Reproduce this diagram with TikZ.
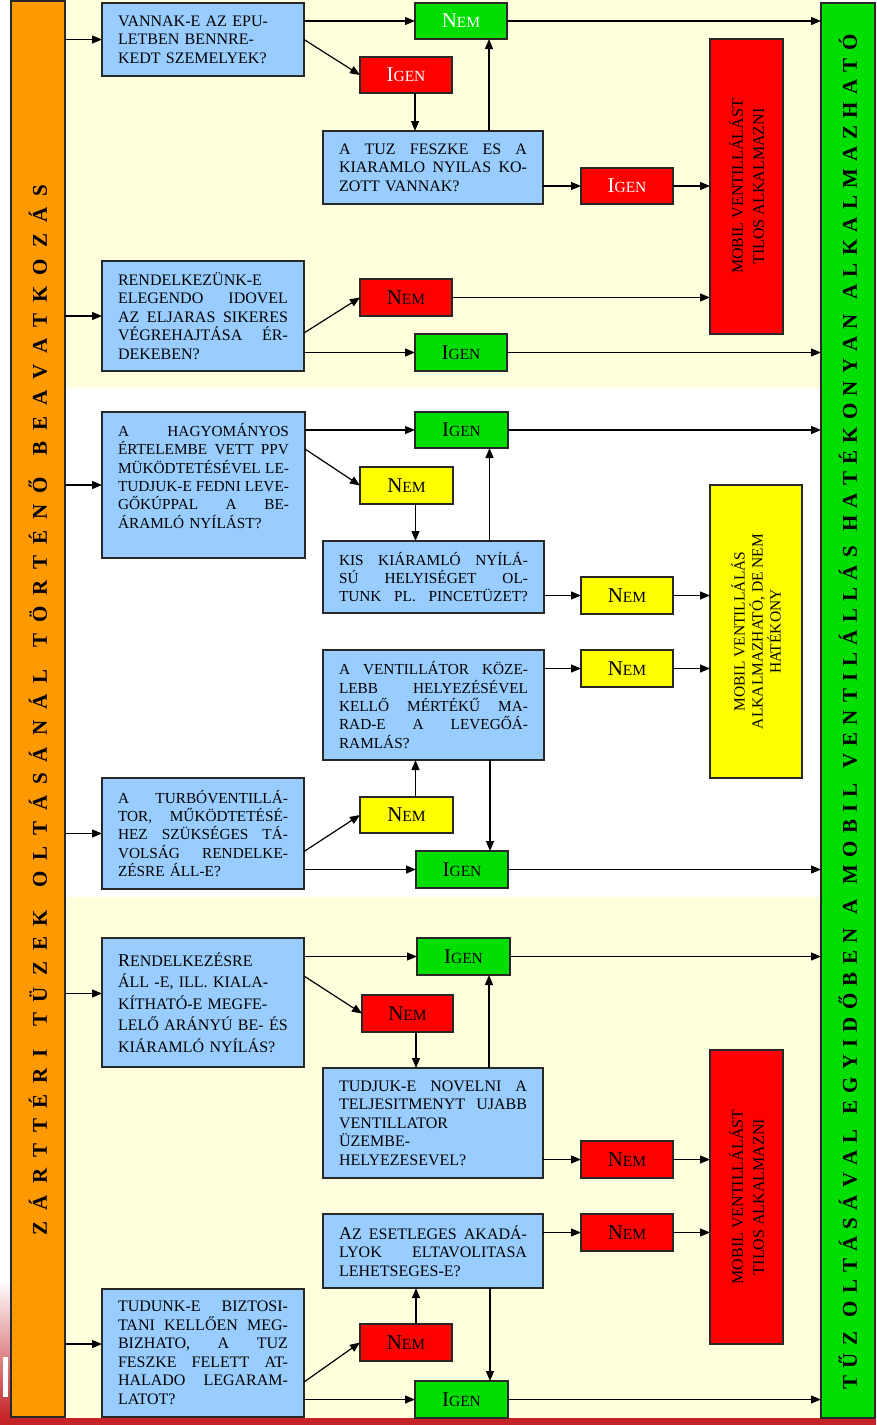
\documentclass[tikz,border=0pt]{standalone}
\usepackage{fontspec}
\setmainfont{Liberation Serif}
\usetikzlibrary{arrows.meta,calc}
\definecolor{cream}{RGB}{255,255,222}
\definecolor{qblue}{RGB}{153,204,255}
\definecolor{cgreen}{RGB}{0,222,0}
\definecolor{cred}{RGB}{255,0,0}
\definecolor{cyel}{RGB}{255,255,0}
\definecolor{corange}{RGB}{255,153,0}
\definecolor{stripred}{RGB}{196,36,40}
\definecolor{edge}{RGB}{40,40,40}
\newcommand{\lbl}[2]{{\fontsize{21}{21}\selectfont #1}{\fontsize{15.5}{15.5}\selectfont #2}}
\newcommand{\jl}[1]{\makebox[\hsize][s]{\spaceskip=0pt\xspaceskip=0pt #1}}
\newcommand{\gp}{\hfil}
\newcommand{\ftop}{\fontsize{16}{18.5}\selectfont}
\newcommand{\fmid}{\fontsize{15.3}{18.3}\selectfont}
\tikzset{
  qbox/.style={draw=edge, line width=1.1pt, fill=qblue, anchor=north west, inner xsep=16pt, inner ysep=0pt, outer sep=0pt, align=left},
  lab/.style={draw=edge, line width=1.1pt, anchor=north west, inner sep=0pt, outer sep=0pt},
  tall/.style={draw=edge, line width=1.1pt, anchor=north west, inner sep=0pt, outer sep=0pt},
  bar/.style={draw=edge, line width=1.3pt, anchor=north west, inner sep=0pt, outer sep=0pt},
  bartext/.style={rotate=90, inner sep=0pt, font=\fontsize{21}{21}\selectfont\bfseries},
  talltext/.style={rotate=90, inner sep=0pt, align=center},
  arr/.style={draw=black, line width=1.2pt, -{Triangle[length=10pt,width=8pt]}}
}
\begin{document}
\begin{tikzpicture}[x=1pt,y=-1pt]
\useasboundingbox (0,0) rectangle (876,1425);
\fill[white] (0,0) rectangle (876,1425);
% backgrounds
\fill[cream] (65,0) rectangle (821,388);
\fill[cream] (65,897) rectangle (821,1418);
\shade[top color=white, bottom color=stripred] (0,1280) rectangle (11,1418);
\fill[white] (3,1357) rectangle (8,1397);
\fill[stripred] (0,1418) rectangle (876,1425);
% side bars
\node[bar, fill=corange, minimum width=54pt, minimum height=1416pt] (obar) at (11,1) {};
\node[bar, fill=cgreen, minimum width=54pt, minimum height=1415pt] (gbar) at (821,3) {};
\node[bartext] (obart) at (38,710) {\makebox[1050pt][s]{Z\gp Á\gp R\gp T\gp T\gp É\gp R\gp I\gp\gp T\gp Ü\gp Z\gp E\gp K\gp\gp O\gp L\gp T\gp Á\gp S\gp Á\gp N\gp Á\gp L\gp\gp T\gp Ö\gp R\gp T\gp É\gp N\gp Ő\gp\gp B\gp E\gp A\gp V\gp A\gp T\gp K\gp O\gp Z\gp Á\gp S}};
\node[bartext] (gbart) at (848,712) {\makebox[1355pt][s]{T\gp Ű\gp Z\gp\gp O\gp L\gp T\gp Á\gp S\gp Á\gp V\gp A\gp L\gp\gp E\gp G\gp Y\gp I\gp D\gp Ő\gp B\gp E\gp N\gp\gp A\gp\gp M\gp O\gp B\gp I\gp L\gp\gp V\gp E\gp N\gp T\gp I\gp L\gp Á\gp L\gp L\gp Á\gp S\gp\gp H\gp A\gp T\gp É\gp K\gp O\gp N\gp Y\gp A\gp N\gp\gp A\gp L\gp K\gp A\gp L\gp M\gp A\gp Z\gp H\gp A\gp T\gp Ó}};

% ---------- top section ----------
\node[qbox, font=\ftop, minimum width=202pt, minimum height=73pt, text width=170pt] (q1) at (102,3) {VANNAK-E AZ EPU-\\LETBEN BENNRE-\\KEDT SZEMELYEK?};
\node[lab, fill=cgreen, text=white, minimum width=92pt, minimum height=36pt] (nem1) at (415,3) {\lbl{N}{EM}};
\node[lab, fill=cred, text=white, minimum width=92pt, minimum height=36pt] (igen1) at (360,57) {\lbl{I}{GEN}};
\node[qbox, font=\ftop, minimum width=220pt, minimum height=73pt, text width=188pt] (q2) at (323,131) {\jl{A TUZ FESZKE ES A}\\\jl{KIARAMLO NYILAS KO-}\\ZOTT VANNAK?};
\node[lab, fill=cred, text=white, minimum width=92pt, minimum height=36pt] (igen2) at (581,168) {\lbl{I}{GEN}};
\node[tall, fill=cred, minimum width=73pt, minimum height=295pt] (red1) at (710,39) {};
\node[talltext, font=\fontsize{16}{21}\selectfont] (red1t) at (red1.center) {MOBIL VENTILLÁLÁST\\TILOS ALKALMAZNI};
\node[qbox, font=\ftop, minimum width=202pt, minimum height=110pt, text width=170pt] (q3) at (102,261) {RENDELKEZÜNK-E\\\jl{ELEGENDO IDOVEL}\\\jl{AZ ELJARAS SIKERES}\\\jl{VÉGREHAJTÁSA ÉR-}\\DEKEBEN?};
\node[lab, fill=cred, minimum width=92pt, minimum height=37pt] (nem3) at (360,279) {\lbl{N}{EM}};
\node[lab, fill=cgreen, minimum width=92pt, minimum height=37pt] (igen3) at (415,334) {\lbl{I}{GEN}};

% ---------- middle section ----------
\node[qbox, font=\fmid, minimum width=203pt, minimum height=146pt, text width=171pt] (q4) at (102,412) {\jl{A HAGYOMÁNYOS}\\\jl{ÉRTELEMBE VETT PPV}\\\jl{MÜKÖDTETÉSÉVEL LE-}\\\jl{TUDJUK-E FEDNI LEVE-}\\\jl{GŐKÚPPAL A BE-}\\ÁRAMLÓ NYÍLÁST?\\~};
\node[lab, fill=cgreen, minimum width=93pt, minimum height=36pt] (igen4) at (415,412) {\lbl{I}{GEN}};
\node[lab, fill=cyel, minimum width=93pt, minimum height=37pt] (nem4) at (360,467) {\lbl{N}{EM}};
\node[qbox, font=\fmid, minimum width=221pt, minimum height=72pt, text width=189pt] (q5) at (323,541) {\jl{KIS KIÁRAMLÓ NYÍLÁ-}\\\jl{SÚ HELYISÉGET OL-}\\\jl{TUNK PL. PINCETÜZET?}};
\node[lab, fill=cyel, minimum width=92pt, minimum height=37pt] (nem5) at (581,577) {\lbl{N}{EM}};
\node[tall, fill=cyel, minimum width=92pt, minimum height=293pt] (ybox) at (710,485) {};
\node[talltext, font=\fontsize{15.5}{18}\selectfont] (yboxt) at (ybox.center) {MOBIL VENTILLÁLÁS\\ALKALMAZHATÓ, DE NEM\\HATÉKONY};
\node[qbox, font=\fmid, minimum width=221pt, minimum height=110pt, text width=189pt] (q6) at (323,650) {\jl{A VENTILLÁTOR KÖZE-}\\\jl{LEBB HELYEZÉSÉVEL}\\\jl{KELLŐ MÉRTÉKŰ MA-}\\\jl{RAD-E A LEVEGŐÁ-}\\RAMLÁS?};
\node[lab, fill=cyel, minimum width=92pt, minimum height=37pt] (nem6) at (581,650) {\lbl{N}{EM}};
\node[qbox, font=\fmid, minimum width=202pt, minimum height=111pt, text width=170pt] (q7) at (102,778) {\jl{A TURBÓVENTILLÁ-}\\\jl{TOR, MŰKÖDTETÉSÉ-}\\\jl{HEZ SZÜKSÉGES TÁ-}\\\jl{VOLSÁG RENDELKE-}\\ZÉSRE ÁLL-E?};
\node[lab, fill=cyel, minimum width=93pt, minimum height=36pt] (nem7) at (360,797) {\lbl{N}{EM}};
\node[lab, fill=cgreen, minimum width=92pt, minimum height=37pt] (igen7) at (416,851) {\lbl{I}{GEN}};

% ---------- bottom section ----------
\node[qbox, font=\fontsize{16}{21.5}\selectfont, minimum width=202pt, minimum height=129pt, text width=170pt] (q8) at (102,938) {{\fontsize{18}{18}\selectfont R}ENDELKEZÉSRE\\ÁLL -E, ILL. KIALA-\\KÍTHATÓ-E MEGFE-\\LELŐ ARÁNYÚ BE- ÉS\\KIÁRAMLÓ NYÍLÁS?};
\node[lab, fill=cgreen, minimum width=93pt, minimum height=37pt] (igen8) at (417,938) {\lbl{I}{GEN}};
\node[lab, fill=cred, minimum width=91pt, minimum height=37pt] (nem8) at (362,995) {\lbl{N}{EM}};
\node[qbox, font=\ftop, minimum width=220pt, minimum height=110pt, text width=188pt] (q9) at (323,1068) {\jl{TUDJUK-E NOVELNI A}\\\jl{TELJESITMENYT UJABB}\\VENTILLATOR\\ÜZEMBE-\\HELYEZESEVEL?};
\node[lab, fill=cred, minimum width=92pt, minimum height=37pt] (nem9) at (581,1141) {\lbl{N}{EM}};
\node[tall, fill=cred, minimum width=73pt, minimum height=294pt] (red2) at (710,1050) {};
\node[talltext, font=\fontsize{16}{21}\selectfont] (red2t) at (red2.center) {MOBIL VENTILLÁLÁST\\TILOS ALKALMAZNI};
\node[qbox, font=\ftop, minimum width=220pt, minimum height=74pt, text width=188pt] (q10) at (323,1214) {\jl{{\fontsize{18}{18}\selectfont A}Z ESETLEGES AKADÁ-}\\\jl{LYOK ELTAVOLITASA}\\LEHETSEGES-E?};
\node[lab, fill=cred, minimum width=92pt, minimum height=37pt] (nem10) at (581,1214) {\lbl{N}{EM}};
\node[qbox, font=\ftop, minimum width=202pt, minimum height=128pt, text width=170pt] (q11) at (102,1289) {\jl{TUDUNK-E BIZTOSI-}\\\jl{TANI KELLŐEN MEG-}\\\jl{BIZHATO, A TUZ}\\\jl{FESZKE FELETT AT-}\\\jl{HALADO LEGARAM-}\\LATOT?};
\node[lab, fill=cred, minimum width=92pt, minimum height=37pt] (nem11) at (360,1324) {\lbl{N}{EM}};
\node[lab, fill=cgreen, minimum width=93pt, minimum height=37pt] (igen11) at (415,1381) {\lbl{I}{GEN}};

% ---------- connectors ----------
\coordinate (a8) at ([yshift=9pt]q8.west);
\coordinate (a11) at ([yshift=9pt]q11.west);
\draw[arr] (obar.east |- q1.west) -- (q1.west);
\draw[arr] (obar.east |- q3.west) -- (q3.west);
\draw[arr] (obar.east |- q4.west) -- (q4.west);
\draw[arr] (obar.east |- q7.west) -- (q7.west);
\draw[arr] (obar.east |- a8) -- (a8);
\draw[arr] (obar.east |- a11) -- (a11);

% top
\draw[arr] (q1.east |- nem1.west) -- (nem1.west);
\draw[arr] (q1.east) -- (igen1.west);
\coordinate (v1) at ([xshift=9pt]igen1.south);
\draw[arr] (v1) -- (v1 |- q2.north);
\coordinate (v2) at ([xshift=28pt]nem1.south);
\draw[arr] (v2 |- q2.north) -- (v2);
\draw[arr] (nem1.east) -- (nem1.east -| gbar.west);
\draw[arr] (q2.east |- igen2.west) -- (igen2.west);
\draw[arr] (igen2.east) -- (igen2.east -| red1.west);
\coordinate (d3) at ([yshift=-17pt]q3.east);
\draw[arr] (d3) -- (nem3.west);
\draw[arr] (q3.east |- igen3.west) -- (igen3.west);
\draw[arr] (nem3.east) -- (nem3.east -| red1.west);
\draw[arr] (igen3.east) -- (igen3.east -| gbar.west);

% middle
\draw[arr] (q4.east |- igen4.west) -- (igen4.west);
\coordinate (d4) at ([yshift=-37pt]q4.north east);
\draw[arr] (d4) -- (nem4.west);
\coordinate (v3) at ([xshift=9pt]nem4.south);
\draw[arr] (v3) -- (v3 |- q5.north);
\coordinate (v4) at ([xshift=28pt]igen4.south);
\draw[arr] (v4 |- q5.north) -- (v4);
\draw[arr] (igen4.east) -- (igen4.east -| gbar.west);
\draw[arr] (q5.east |- nem5.west) -- (nem5.west);
\draw[arr] (nem5.east) -- (nem5.east -| ybox.west);
\draw[arr] (q6.east |- nem6.west) -- (nem6.west);
\draw[arr] (nem6.east) -- (nem6.east -| ybox.west);
\coordinate (d7) at ([yshift=-18pt]q7.east);
\draw[arr] (d7) -- (nem7.west);
\draw[arr] (q7.east |- igen7.west) -- (igen7.west);
\coordinate (v5) at ([xshift=9pt]nem7.north);
\draw[arr] (v5) -- (v5 |- q6.south);
\coordinate (v6) at ([xshift=28pt]igen7.north);
\draw[arr] (v6 |- q6.south) -- (v6);
\draw[arr] (igen7.east) -- (igen7.east -| gbar.west);

% bottom
\draw[arr] (q8.east |- igen8.west) -- (igen8.west);
\coordinate (d8) at ([yshift=-38pt]q8.north east);
\draw[arr] (d8) -- (nem8.west);
\coordinate (v7) at ([xshift=8.5pt]nem8.south);
\draw[arr] (v7) -- (v7 |- q9.north);
\coordinate (v8) at ([xshift=25.5pt]igen8.south);
\draw[arr] (v8 |- q9.north) -- (v8);
\draw[arr] (igen8.east) -- (igen8.east -| gbar.west);
\draw[arr] (q9.east |- nem9.west) -- (nem9.west);
\draw[arr] (nem9.east) -- (nem9.east -| red2.west);
\draw[arr] (q10.east |- nem10.west) -- (nem10.west);
\draw[arr] (nem10.east) -- (nem10.east -| red2.west);
\coordinate (d11) at ([yshift=-93pt]q11.north east);
\draw[arr] (d11) -- (nem11.west);
\draw[arr] (q11.east |- igen11.west) -- (igen11.west);
\coordinate (v9) at ([xshift=10pt]nem11.north);
\draw[arr] (v9) -- (v9 |- q10.south);
\coordinate (v10) at ([xshift=28.5pt]igen11.north);
\draw[arr] (v10 |- q10.south) -- (v10);
\draw[arr] (igen11.east) -- (igen11.east -| gbar.west);
\end{tikzpicture}
\end{document}
